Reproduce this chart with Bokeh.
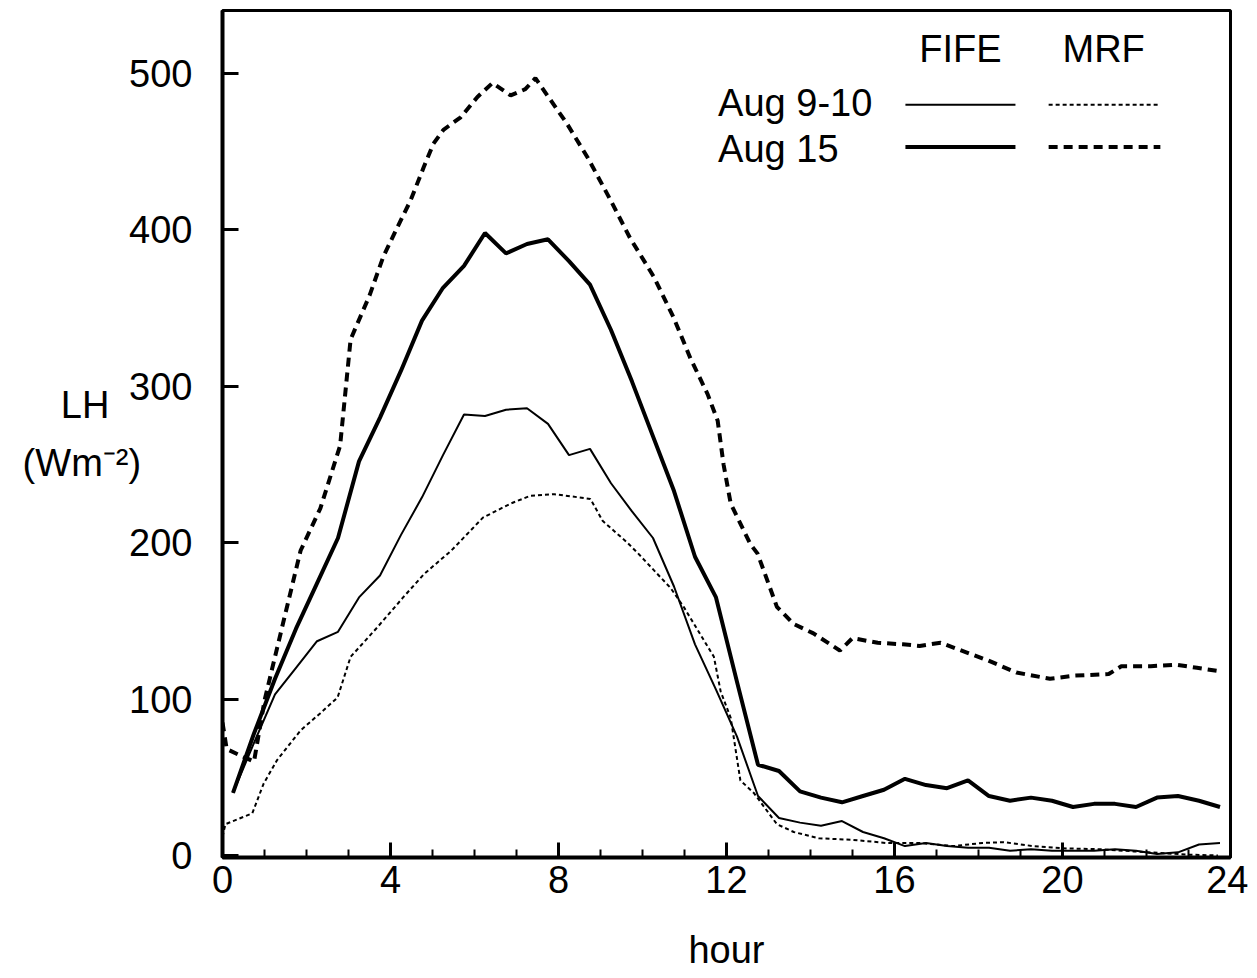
from bokeh.plotting import figure
from bokeh.models import Range1d, FixedTicker, Label
from bokeh.embed import file_html
from bokeh.resources import INLINE

# ---- data (hours, LH in W m-2) ----
fife_hours = [0.25, 0.75, 1.25, 1.75, 2.25, 2.75, 3.25, 3.75, 4.25, 4.75,
              5.25, 5.75, 6.25, 6.75, 7.25, 7.75, 8.25, 8.75, 9.25, 9.75,
              10.25, 10.75, 11.25, 11.75, 12.25, 12.75, 13.25, 13.75, 14.25, 14.75,
              15.25, 15.75, 16.25, 16.75, 17.25, 17.75, 18.25, 18.75, 19.25, 19.75,
              20.25, 20.75, 21.25, 21.75, 22.25, 22.75, 23.25, 23.75]
fife_aug9_10 = [40, 72, 103, 120, 137, 143, 165, 179, 205, 229,
                256, 282, 281, 285, 286, 276, 256, 260, 238, 220,
                203, 172, 135, 106, 76, 38, 24, 21, 19, 22,
                15, 11, 6, 8, 6, 5, 5, 3, 4, 3,
                3, 3, 4, 3, 1, 2, 7, 8]
fife_aug15 = [40, 78, 113, 145, 174, 203, 252, 280, 310, 342,
              363, 377, 398, 385, 391, 394, 380, 365, 336, 303,
              268, 233, 191, 165, 111, 58, 54, 41, 37, 34,
              38, 42, 49, 45, 43, 48, 38, 35, 37, 35,
              31, 33, 33, 31, 37, 38, 35, 31]

mrf15_hours = [0.0, 0.1, 0.5, 0.75, 1.0, 1.5, 1.86, 2.33, 2.8, 3.05,
               3.5, 3.83, 4.17, 4.48, 4.79, 5.02, 5.26, 5.67, 6.07, 6.43,
               6.86, 7.21, 7.45, 8.2, 8.7, 9.24, 9.7, 10.27, 10.74, 11.14,
               11.55, 11.79, 11.93, 12.1, 12.57, 12.74, 13.2, 13.6, 14.07, 14.7,
               15.0, 15.6, 16.2, 16.6, 17.1, 17.6, 18.2, 18.9, 19.7, 20.3,
               21.1, 21.4, 22.1, 22.7, 23.2, 23.7]
mrf_aug15 = [85, 68, 63, 60, 99, 155, 195, 222, 262, 330,
             358, 383, 402, 419, 440, 455, 464, 472, 485, 494,
             486, 490, 497, 468, 446, 419, 395, 370, 344, 318,
             295, 278, 250, 225, 199, 193, 159, 148, 142, 131,
             139, 136, 135, 134, 136, 131, 125, 117, 113, 115,
             116, 121, 121, 122, 120, 118]

mrf910_hours = [0.0, 0.07, 0.71, 0.98, 1.3, 1.86, 2.33, 2.74, 3.05, 3.69,
                4.3, 4.8, 5.45, 6.2, 6.86, 7.33, 7.9, 8.76, 9.05, 9.64,
                9.9, 10.67, 10.98, 11.7, 11.86, 12.1, 12.33, 12.65, 13.2, 13.6,
                14.2, 15.0, 15.8, 16.6, 17.4, 18.1, 18.6, 19.3, 20.1, 20.9,
                21.7, 22.5, 23.0, 23.7]
mrf_aug9_10 = [12, 20, 27, 46, 61, 80, 91, 101, 127, 146,
               165, 180, 195, 216, 225, 230, 231, 228, 214, 200,
               193, 171, 159, 127, 105, 88, 48, 40, 20, 15,
               11, 10, 8, 8, 6, 8, 8.5, 6, 4.5, 4,
               2.6, 1.3, 0.5, 0]

x_ticks = [0, 4, 8, 12, 16, 20, 24]
x_minor = list(range(0, 25))
y_ticks = [0, 100, 200, 300, 400, 500]

FONT = "Liberation Sans"
FS = "38px"

p = figure(width=1248, height=975, x_range=Range1d(0, 24), y_range=Range1d(-1.3, 540.3),
           output_backend="svg", toolbar_location=None,
           min_border_left=222, min_border_right=18, min_border_top=10, min_border_bottom=118)

p.xgrid.visible = False
p.ygrid.visible = False
p.outline_line_color = "black"
p.outline_line_width = 3
p.background_fill_color = "white"
p.border_fill_color = "white"

for ax in (p.xaxis[0], p.yaxis[0]):
    ax.axis_line_width = 4
    ax.axis_line_color = "black"
    ax.major_tick_out = 0
    ax.minor_tick_out = 0
    ax.major_tick_line_width = 3
    ax.minor_tick_line_width = 2
    ax.major_label_text_font = FONT
    ax.major_label_text_font_size = FS
    ax.major_label_text_color = "black"
    ax.axis_label_text_font = FONT
    ax.axis_label_text_font_size = FS
    ax.axis_label_text_font_style = "normal"
    ax.axis_label_text_color = "black"

p.xaxis.ticker = FixedTicker(ticks=x_ticks, minor_ticks=x_minor)
p.xaxis.major_tick_in = 15
p.xaxis.minor_tick_in = 8
p.xaxis.major_label_standoff = 8
p.xaxis.axis_label = "hour"
p.xaxis.axis_label_standoff = 33

p.yaxis.ticker = FixedTicker(ticks=y_ticks, minor_ticks=[])
p.yaxis.major_tick_in = 16
p.yaxis.minor_tick_in = 0
p.yaxis.major_label_standoff = 30
p.yaxis.axis_label = "LH\u00a0\u00a0\u00a0\n(Wm\u207b\u00b2)"
p.yaxis.axis_label_orientation = "horizontal"
p.yaxis.axis_label_text_align = "center"
p.yaxis.axis_label_text_line_height = 1.4
p.yaxis.axis_label_standoff = -15

# ---- curves ----
p.line(fife_hours, fife_aug9_10, line_color="black", line_width=2)
p.line(fife_hours, fife_aug15, line_color="black", line_width=4)
p.line(mrf910_hours, mrf_aug9_10, line_color="black", line_width=2, line_dash="4 3")
p.line(mrf15_hours, mrf_aug15, line_color="black", line_width=4, line_dash="9 6")

# ---- legend (table style) ----
p.segment(x0=[16.26], y0=[480], x1=[18.88], y1=[480], line_color="black", line_width=2)
p.segment(x0=[16.26], y0=[453], x1=[18.88], y1=[453], line_color="black", line_width=4)
p.segment(x0=[19.67], y0=[480], x1=[22.33], y1=[480], line_color="black", line_width=2, line_dash="4 3")
p.segment(x0=[19.67], y0=[453], x1=[22.33], y1=[453], line_color="black", line_width=4, line_dash="9 6")

def lab(x, y, t, align="left", size=FS):
    p.add_layout(Label(x=x, y=y, text=t, text_font=FONT, text_font_size=size,
                       text_align=align, text_baseline="middle", text_color="black"))

lab(17.57, 516, "FIFE", "center")
lab(20.98, 516, "MRF", "center")
lab(11.8, 481, "Aug 9-10")
lab(11.8, 452, "Aug 15")

open("out.html", "w").write(file_html(p, INLINE))
